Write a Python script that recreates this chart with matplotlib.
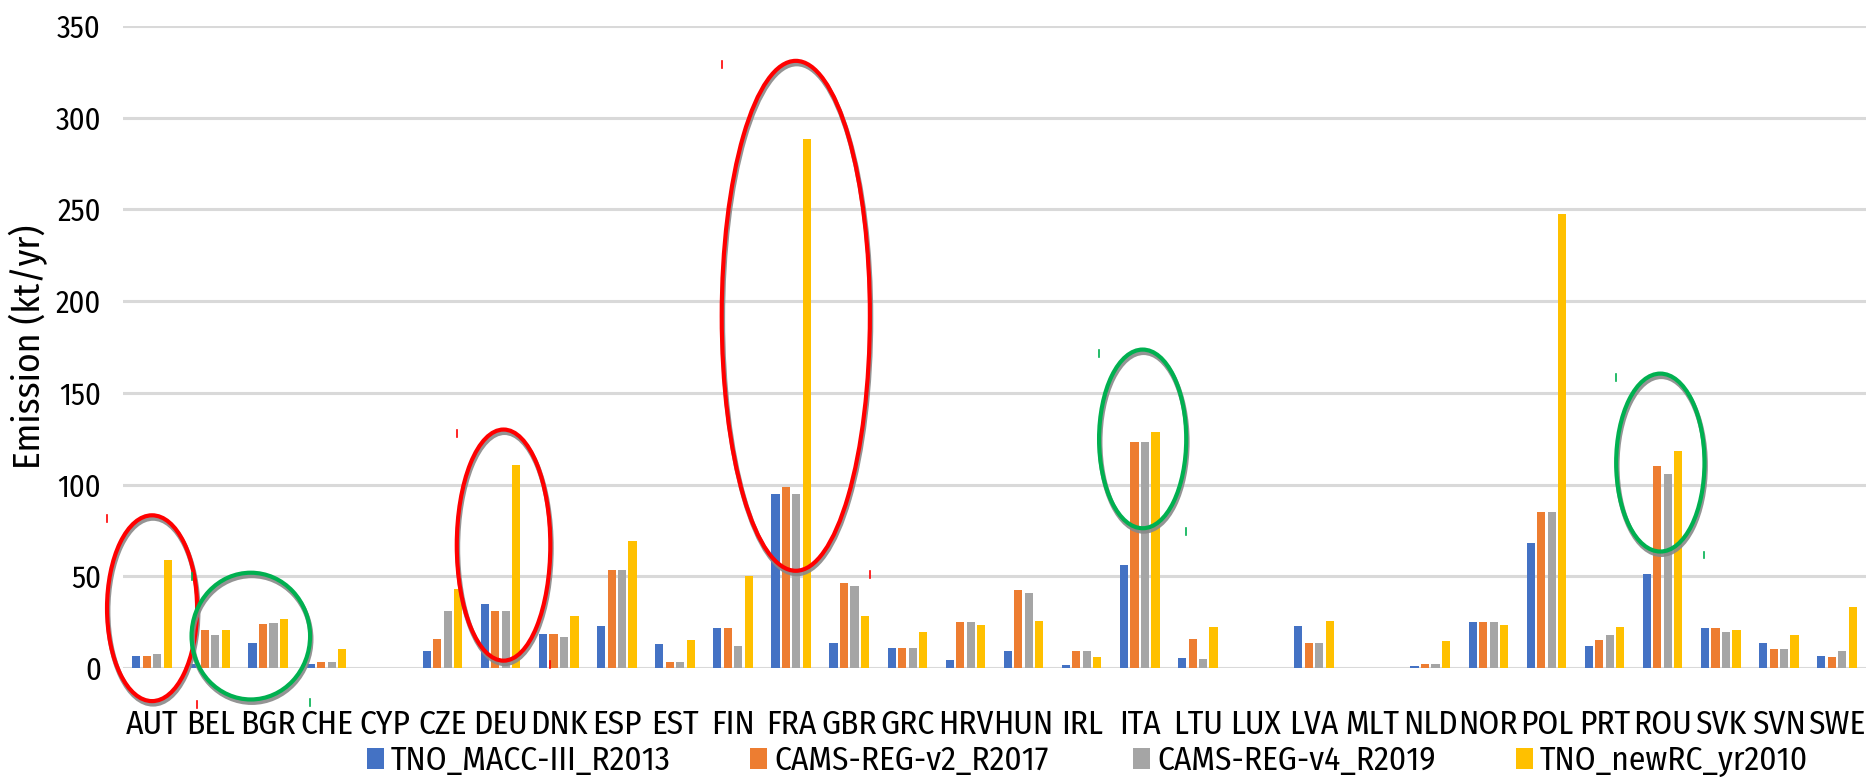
"""Country emissions across four inventories, with highlighted groups."""
import numpy as np
import matplotlib.pyplot as plt
from matplotlib import font_manager as fm
from matplotlib.patches import Ellipse, Patch
import matplotlib.patheffects as pe

countries = ["AUT", "BEL", "BGR", "CHE", "CYP", "CZE", "DEU", "DNK", "ESP", "EST",
             "FIN", "FRA", "GBR", "GRC", "HRV", "HUN", "IRL", "ITA", "LTU", "LUX",
             "LVA", "MLT", "NLD", "NOR", "POL", "PRT", "ROU", "SVK", "SVN", "SWE"]

tno_macc = [6.5, 2, 13.5, 2, 0, 9.4, 35, 18.5, 23, 12.9,
            22, 95, 13.4, 11, 4.3, 9.4, 1.5, 56, 5.6, 0,
            23, 0, 1.3, 25, 68, 11.8, 51, 22, 13.7, 6.8]
cams_v2 = [6.5, 20.5, 24, 3, 0, 16, 31, 18.5, 53.5, 3.2,
           22, 98.5, 46.5, 11, 25, 42.3, 9.4, 123, 16, 0,
           13.5, 0, 2.4, 25, 84.8, 15.2, 110, 22, 10.3, 6]
cams_v4 = [7.5, 18, 24.8, 3, 0, 31, 31, 17, 53.5, 3.2,
           11.8, 95, 44.6, 11, 25, 40.7, 9.4, 123, 4.8, 0,
           13.5, 0, 2.4, 25, 84.8, 17.9, 105.6, 19.6, 10.3, 9.3]
tno_new = [58.7, 20.5, 26.5, 10.2, 0, 42.8, 110.5, 28.2, 69, 15.3,
           50, 288.5, 28.2, 19.8, 23.2, 25.8, 5.9, 128.8, 22.2, 0,
           25.8, 0, 14.5, 23.2, 247.4, 22.2, 118.5, 20.5, 18, 33.5]

series_names = ["TNO_MACC-III_R2013", "CAMS-REG-v2_R2017",
                "CAMS-REG-v4_R2019", "TNO_newRC_yr2010"]
series_colors = ["#4472C4", "#ED7D31", "#A5A5A5", "#FFC000"]

# highlight ellipses: centre (category index, value), width, height
ell_x = [0.0, 1.70, 6.05, 11.08, 17.05, 25.96]
ell_y = [32.6, 17.4, 67.0, 192.0, 124.9, 112.0]
ell_w = [1.55, 2.04, 1.61, 2.55, 1.50, 1.52]
ell_h = [101.3, 69.1, 126.0, 278.0, 97.4, 97.0]
ell_c = ["#FF0000", "#00B050", "#FF0000", "#FF0000", "#00B050", "#00B050"]


def have_font(name):
    try:
        fm.findfont(fm.FontProperties(family=name), fallback_to_default=False)
        return True
    except ValueError:
        return False


# the chart text is narrow; use a condensed face if there is one
if have_font("Fira Sans Condensed"):
    font = "Fira Sans Condensed"
    xs, ys, ls, labs = 24, 22, 24, 27
else:
    font = "Liberation Sans"
    xs, ys, ls, labs = 17, 20, 18, 24
plt.rcParams["font.family"] = [font, "DejaVu Sans"]

fig = plt.figure(figsize=(18.68, 7.79), dpi=100)
ax = fig.add_axes([123 / 1868, 1 - 668 / 779, 1743 / 1868, 642 / 779])

x = np.arange(len(countries))
width = 0.14
pitch = 0.18
for i, (vals, col) in enumerate(zip([tno_macc, cams_v2, cams_v4, tno_new], series_colors)):
    ax.bar(x + (i - 1.5) * pitch, vals, width, color=col, zorder=3)

ax.set_xlim(-0.5, len(countries) - 0.5)
ax.set_ylim(0, 350)
ax.set_yticks(range(0, 351, 50))
ax.yaxis.grid(True, color="#D9D9D9", lw=2.2, zorder=0)
ax.set_axisbelow(True)
for s in ax.spines.values():
    s.set_visible(False)
ax.set_xticks(x)
ax.set_xticklabels(countries, fontsize=xs)
ax.tick_params(axis="x", length=0, pad=29)
ax.tick_params(axis="y", length=0, pad=16, labelsize=ys)
ax.set_ylabel("Emission (kt/yr)", fontsize=labs, labelpad=5)

for cx, cy, w, h, c in zip(ell_x, ell_y, ell_w, ell_h, ell_c):
    e = Ellipse((cx, cy), w, h, fill=False, edgecolor=c, lw=3, zorder=5, clip_on=False)
    e.set_path_effects([pe.SimpleLineShadow(offset=(0.7, -2.2), shadow_color="#888888",
                                            alpha=0.9, linewidth=3.5),
                        pe.Normal()])
    ax.add_patch(e)
    # leftover selection handles at the bounding box corners
    for hx, hy in [(cx - w / 2, cy + h / 2), (cx + w / 2, cy - h / 2)]:
        ax.plot([hx, hx], [hy, hy - 3.8], color=c, lw=1.2, zorder=5, clip_on=False)

# Excel-style legend: equal-width slots along the bottom
for i, (name, col) in enumerate(zip(series_names, series_colors)):
    fig.legend([Patch(facecolor=col, edgecolor="none")], [name], loc="center left",
               bbox_to_anchor=((367 + 383 * i) / 1868, 1 - 761 / 779), frameon=False,
               fontsize=ls, handlelength=0.52, handleheight=0.6, handletextpad=0.2,
               borderpad=0, borderaxespad=0)

fig.savefig("out.png", dpi=100)
